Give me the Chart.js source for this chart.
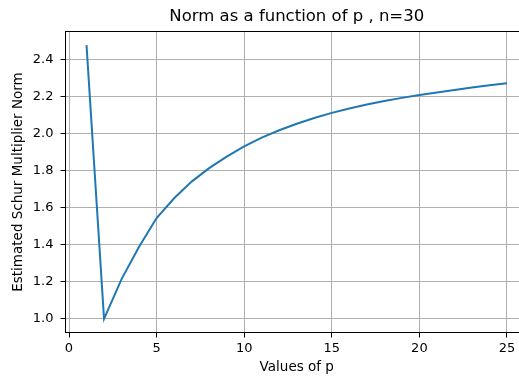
<!DOCTYPE html>
<html>
<head>
<meta charset="utf-8">
<script src="https://cdn.jsdelivr.net/npm/chart.js@4"></script>
<style>
  body { margin: 0; background: #fff; overflow: hidden; }
</style>
</head>
<body>
<canvas id="normChart" width="528" height="376"></canvas>
<script>
const pValues = [1, 2, 3, 4, 5, 6, 7, 8, 9, 10, 11, 12, 13, 14, 15, 16, 17, 18, 19, 20, 21, 22, 23, 24, 25];
const normValues = [2.48, 1.00, 1.215, 1.39, 1.545, 1.652, 1.742, 1.815, 1.877, 1.933, 1.98, 2.02, 2.055, 2.086, 2.114,
  2.138, 2.159, 2.178, 2.195, 2.21, 2.224, 2.238, 2.251, 2.263, 2.274];
const xTicks = [0, 5, 10, 15, 20, 25];
const yTicks = [1.0, 1.2, 1.4, 1.6, 1.8, 2.0, 2.2, 2.4];

const FONT = "'DejaVu Sans', sans-serif";
const tickFont = { family: FONT, size: 13 };
const labelFont = { family: FONT, size: 13.5 };

// matplotlib draws a box round the axes, Chart.js only the axis lines
const framePlugin = {
  id: "frame",
  afterDatasetsDraw(chart) {
    const a = chart.chartArea;
    const ctx = chart.ctx;
    ctx.save();
    ctx.strokeStyle = "#000";
    ctx.lineWidth = 1;
    ctx.strokeRect(a.left, a.top, a.right - a.left, a.bottom - a.top);
    ctx.restore();
  }
};

new Chart(document.getElementById("normChart"), {
  type: "line",
  data: {
    datasets: [
      {
        data: pValues.map((p, i) => ({ x: p, y: normValues[i] })),
        borderColor: "#1f77b4",
        borderWidth: 2,
        pointRadius: 0,
        tension: 0,
        fill: false
      }
    ]
  },
  options: {
    responsive: false,
    animation: false,
    layout: { padding: 0 },
    plugins: {
      legend: { display: false },
      tooltip: { enabled: false },
      title: {
        display: true,
        text: "Norm as a function of p , n=30",
        fullSize: false,
        color: "#000",
        font: { family: FONT, size: 16.5, weight: "normal" },
        padding: { top: 7, bottom: 4.7 }
      }
    },
    scales: {
      x: {
        type: "linear",
        min: -0.2,
        max: 26.2,
        afterBuildTicks: (s) => { s.ticks = xTicks.map(v => ({ value: v })); },
        afterFit: (s) => { s.height = 43.5; },
        grid: { color: "#b0b0b0", lineWidth: 1, tickColor: "#000", tickLength: 5 },
        border: { display: false },
        ticks: { font: tickFont, color: "#000", padding: 3, maxRotation: 0, callback: v => String(v) },
        title: { display: true, text: "Values of p", font: labelFont, color: "#000", padding: { top: 0, bottom: 0 } }
      },
      y: {
        min: 0.926,
        max: 2.554,
        afterBuildTicks: (s) => { s.ticks = yTicks.map(v => ({ value: v })); },
        afterFit: (s) => { s.width = 65.5; },
        grid: { color: "#b0b0b0", lineWidth: 1, tickColor: "#000", tickLength: 5 },
        border: { display: false },
        ticks: { font: tickFont, color: "#000", padding: 7, callback: v => v.toFixed(1) },
        title: { display: true, text: "Estimated Schur Multiplier Norm", font: labelFont, color: "#000", padding: { top: 10, bottom: 0 } }
      }
    }
  },
  plugins: [framePlugin]
});
</script>
</body>
</html>
